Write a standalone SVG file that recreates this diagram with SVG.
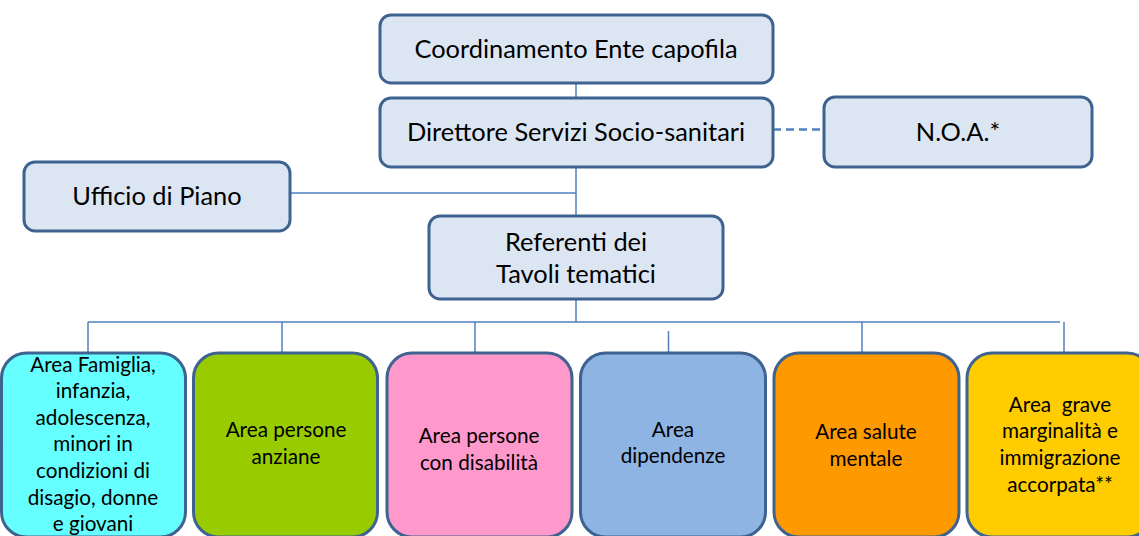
<svg xmlns="http://www.w3.org/2000/svg" width="1139" height="536" viewBox="0 0 1139 536">
<style>
.top{fill:#DCE6F2;stroke:#3F6391;stroke-width:3}
.area{stroke:#3F6391;stroke-width:3}
.t{font-family:Lato,"Liberation Sans",sans-serif;fill:#000;text-anchor:middle}
.big{font-size:25.4px}
.sm{font-size:20.7px}
.c{fill:none;stroke:#4F81BD;stroke-width:1.5}
</style>
<rect width="1139" height="536" fill="#fff"/>
<g id="connectors">
<line class="c" x1="576" y1="83" x2="576" y2="98"/>
<line class="c" x1="576" y1="167" x2="576" y2="216"/>
<line class="c" x1="290" y1="193" x2="576" y2="193"/>
<line class="c" x1="773" y1="129.5" x2="824" y2="129.5" stroke-dasharray="8,5" style="stroke-width:2.5"/>
<line class="c" x1="576" y1="299" x2="576" y2="322"/>
<line class="c" x1="88" y1="322" x2="1060" y2="322"/>
<line class="c" x1="88" y1="322" x2="88" y2="353"/>
<line class="c" x1="282" y1="322" x2="282" y2="353"/>
<line class="c" x1="475" y1="322" x2="475" y2="353"/>
<line class="c" x1="668.5" y1="331" x2="668.5" y2="362"/>
<line class="c" x1="862" y1="322" x2="862" y2="353"/>
<line class="c" x1="1064" y1="322" x2="1064" y2="353"/>
</g>
<g id="coordinamento">
<rect class="top" x="380" y="15" width="393" height="68" rx="11"/>
<text class="t big" x="576" y="58">Coordinamento Ente capofila</text>
</g>
<g id="direttore">
<rect class="top" x="380" y="98" width="393" height="69" rx="11"/>
<text class="t big" x="576" y="141">Direttore Servizi Socio-sanitari</text>
</g>
<g id="noa">
<rect class="top" x="824" y="97" width="268" height="70" rx="11"/>
<text class="t big" x="958" y="141">N.O.A.*</text>
</g>
<g id="ufficio">
<rect class="top" x="24" y="162" width="266" height="69" rx="11"/>
<text class="t big" x="157" y="205">Ufficio di Piano</text>
</g>
<g id="referenti">
<rect class="top" x="429" y="216" width="294" height="83" rx="11"/>
<text class="t big" x="576" y="251">Referenti dei</text>
<text class="t big" x="576" y="283">Tavoli tematici</text>
</g>
<g id="area-famiglia">
<rect class="area" x="1.5" y="353" width="184" height="184" rx="25" fill="#66FFFF"/>
<text class="t sm" x="93" y="372">Area Famiglia,</text>
<text class="t sm" x="93" y="398">infanzia,</text>
<text class="t sm" x="93" y="425">adolescenza,</text>
<text class="t sm" x="93" y="451">minori in</text>
<text class="t sm" x="93" y="478">condizioni di</text>
<text class="t sm" x="93" y="505">disagio, donne</text>
<text class="t sm" x="93" y="531">e giovani</text>
</g>
<g id="area-anziani">
<rect class="area" x="193.5" y="353" width="184" height="184" rx="25" fill="#99CC00"/>
<text class="t sm" x="286" y="437">Area persone</text>
<text class="t sm" x="286" y="464">anziane</text>
</g>
<g id="area-disabilita">
<rect class="area" x="387" y="353" width="185" height="184" rx="25" fill="#FF99CC"/>
<text class="t sm" x="479" y="443">Area persone</text>
<text class="t sm" x="479" y="470">con disabilità</text>
</g>
<g id="area-dipendenze">
<rect class="area" x="580.5" y="353" width="185" height="184" rx="25" fill="#8EB4E3"/>
<text class="t sm" x="673" y="437">Area</text>
<text class="t sm" x="673" y="463">dipendenze</text>
</g>
<g id="area-salute">
<rect class="area" x="774" y="353" width="185" height="184" rx="25" fill="#FF9900"/>
<text class="t sm" x="866" y="439">Area salute</text>
<text class="t sm" x="866" y="466">mentale</text>
</g>
<g id="area-marginalita">
<rect class="area" x="967" y="353" width="185" height="184" rx="25" fill="#FFCC00"/>
<text class="t sm" x="1060" y="412" xml:space="preserve">Area  grave</text>
<text class="t sm" x="1060" y="438">marginalità e</text>
<text class="t sm" x="1060" y="465">immigrazione</text>
<text class="t sm" x="1060" y="492">accorpata**</text>
</g>
</svg>
